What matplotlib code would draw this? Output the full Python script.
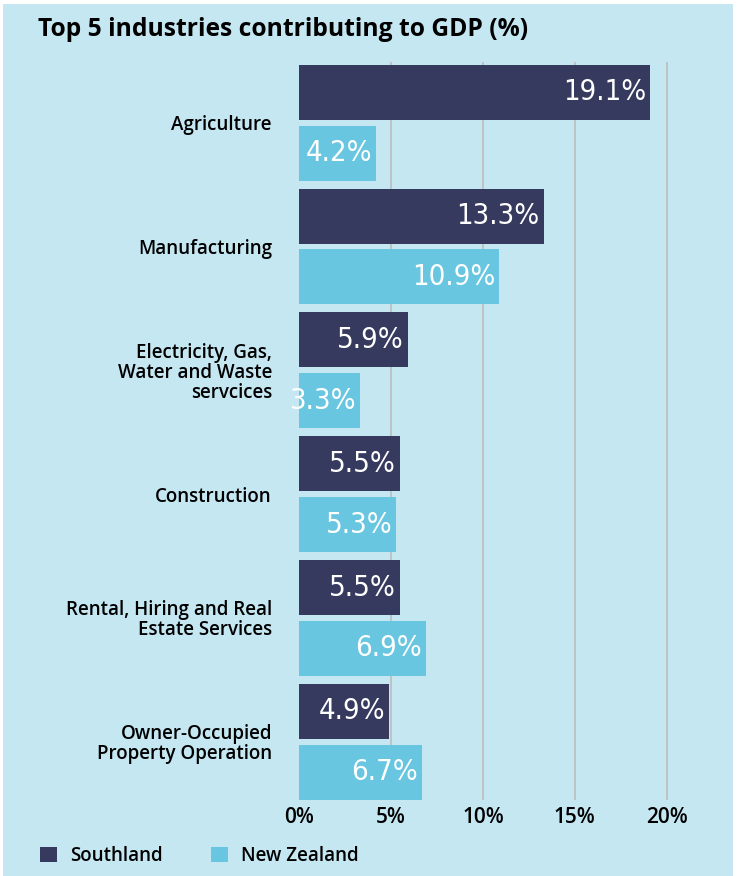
import matplotlib.pyplot as plt
from matplotlib.patches import Patch, Rectangle
import numpy as np

CATEGORIES = [
    "Agriculture",
    "Manufacturing",
    "Electricity, Gas,\nWater and Waste\nservcices",
    "Construction",
    "Rental, Hiring and Real\nEstate Services",
    "Owner-Occupied\nProperty Operation",
]
SOUTHLAND = [19.1, 13.3, 5.9, 5.5, 5.5, 4.9]
NEW_ZEALAND = [4.2, 10.9, 3.3, 5.3, 6.9, 6.7]
SERIES_NAMES = ["Southland", "New Zealand"]
X_TICKS = [0, 5, 10, 15, 20]
X_TICK_LABELS = ["0%", "5%", "10%", "15%", "20%"]

DARK = "#363A5E"
LIGHT = "#68C6E0"
BG = "#C4E7F2"
GRID = "#BDBDBD"

W, H = 739, 876
LABEL_FONT = ["Open Sans", "DejaVu Sans"]
VALUE_FONT = ["DejaVu Sans"]


def px_x(x):
    return x / W


def px_y(y):
    return 1 - y / H


def main():
    fig = plt.figure(figsize=(W / 100, H / 100), dpi=100, facecolor="white")
    fig.patches.append(
        Rectangle((px_x(3), 0), px_x(730), px_y(4), transform=fig.transFigure,
                  facecolor=BG, edgecolor="none", zorder=-10)
    )

    ax = fig.add_axes([px_x(299), px_y(800), px_x(377), px_y(62) - px_y(800)])
    ax.set_facecolor("none")

    y = np.arange(len(CATEGORIES))
    offset = 0.246
    height = 0.444
    ax.barh(y - offset, SOUTHLAND, height=height, color=DARK, zorder=2)
    ax.barh(y + offset, NEW_ZEALAND, height=height, color=LIGHT, zorder=2)

    for vals, shift in ((SOUTHLAND, -offset), (NEW_ZEALAND, offset)):
        for i, v in enumerate(vals):
            ax.annotate(
                f"{v:.1f}%", (v, i + shift), xytext=(-3, 0), textcoords="offset points",
                ha="right", va="center", color="white", fontsize=21,
                family=VALUE_FONT, fontstretch="condensed", zorder=3,
            )

    ax.set_xlim(0, 20.5)
    ax.set_ylim(5.47, -0.49)
    for t in X_TICKS[1:]:
        ax.axvline(t, color=GRID, linewidth=1.2, zorder=1)

    ax.set_xticks(X_TICKS)
    ax.set_xticklabels(X_TICK_LABELS, family=LABEL_FONT, fontsize=15, fontweight="semibold")
    ax.set_yticks(y)
    ax.set_yticklabels(CATEGORIES, family=LABEL_FONT, fontsize=13.5, fontweight="semibold",
                       linespacing=1.0)
    ax.tick_params(axis="both", length=0)
    ax.tick_params(axis="x", pad=5)
    ax.tick_params(axis="y", pad=19.5)
    for s in ax.spines.values():
        s.set_visible(False)

    fig.text(px_x(38), px_y(30), "Top 5 industries contributing to GDP (%)",
             family=LABEL_FONT, fontsize=17.7, fontweight="bold", va="center", ha="left")

    handles = [Patch(facecolor=DARK), Patch(facecolor=LIGHT)]
    fig.legend(handles, SERIES_NAMES, loc="center left", bbox_to_anchor=(px_x(23), px_y(856)),
               ncol=2, frameon=False, handlelength=0.9, handleheight=0.9,
               columnspacing=2.6, handletextpad=0.7,
               prop={"family": LABEL_FONT, "size": 13.5, "weight": "semibold"})

    fig.savefig("out.png", dpi=100, facecolor="white")


if __name__ == "__main__":
    main()
